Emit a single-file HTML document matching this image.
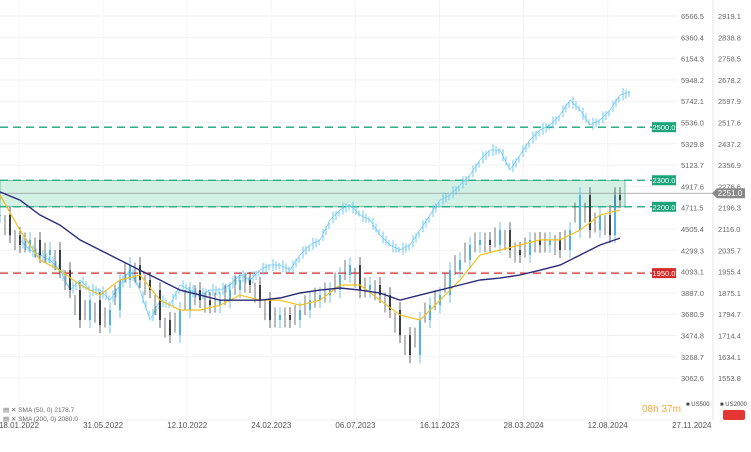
<!DOCTYPE html>
<html><head><meta charset="utf-8"><style>
body{margin:0;width:751px;height:447px;background:#fff;overflow:hidden;font-family:"Liberation Sans",sans-serif}
svg text{font-family:"Liberation Sans",sans-serif}
</style></head><body>
<svg id="c" width="751" height="447"></svg>
<script>
const dates=["18.01.2022","31.05.2022","12.10.2022","24.02.2023","06.07.2023","16.11.2023","28.03.2024","12.08.2024","27.11.2024"];
const r2kTicks=["2919.1","2838.8","2758.5","2678.2","2597.9","2517.6","2437.2","2356.9","2276.6","2196.3","2116.0","2035.7","1955.4","1875.1","1794.7","1714.4","1634.1","1553.8"];
const spxTicks=["6566.5","6360.4","6154.3","5948.2","5742.1","5536.0","5329.8","5123.7","4917.6","4711.5","4505.4","4299.3","4093.1","3887.0","3680.9","3474.8","3268.7","3062.6"];
// US2000 closes, one per ~16 days (x step 10px)
const r2k=[2169,2093,2056,2075,2018,2037,1961,1886,1773,1848,1754,1811,1924,1980,1924,1886,1773,1716,1811,1886,1848,1829,1848,1886,1924,1905,1848,1773,1792,1773,1811,1848,1867,1886,1943,1980,1886,1905,1867,1811,1716,1641,1773,1829,1867,1961,1999,2056,2075,2056,2112,2037,2018,2075,2056,2075,2037,2112,2244,2112,2169,2093,2244,2225];
const sma50=[2244,2112,1999,1961,1905,1867,1924,1943,1848,1811,1811,1829,1867,1848,1848,1829,1848,1905,1905,1848,1792,1773,1848,1924,2018,2037,2056,2075,2075,2112,2169,2188];
const sma200=[2256,2225,2169,2131,2075,2037,1999,1961,1924,1886,1867,1848,1848,1848,1856,1875,1886,1894,1886,1875,1848,1867,1886,1905,1924,1931,1943,1961,1980,2018,2056,2082];
// US500 closes from x=20 step 10
const spx=[4399,4302,4254,4206,4109,3915,4012,3915,3915,3818,3964,4109,3915,3625,3818,3770,3964,3915,3867,3915,3915,3964,4061,4012,4109,4157,4157,4109,4254,4351,4399,4593,4689,4738,4641,4593,4447,4351,4302,4351,4496,4641,4786,4834,4931,5028,5173,5270,5270,5076,5221,5367,5463,5512,5609,5754,5657,5512,5560,5657,5802,5831];
const S=document.getElementById('c'),N='http://www.w3.org/2000/svg';
function mk(t,a,p){const e=document.createElementNS(N,t);for(const k in a)e.setAttribute(k,a[k]);(p||S).appendChild(e);return e;}
const yR=v=>16+(2919.1-v)*0.2653;
const yS=v=>16+(6566.5-v)/9.676;
const xD=i=>19+i*84.1;
// grid
for(let i=0;i<r2kTicks.length;i++){const y=16+i*21.3;
 let g=mk('line',{x1:0,x2:676,y1:y,y2:y,stroke:'#f2f2f2'});
 let t=mk('text',{x:681,y:y+3,'font-size':7.5,fill:'#666'});t.textContent=spxTicks[i];
 let t2=mk('text',{x:718,y:y+3,'font-size':7.5,fill:'#666'});t2.textContent=r2kTicks[i];}
mk('line',{x1:713,x2:713,y1:0,y2:420,stroke:'#e6e6e6'});
for(let i=0;i<dates.length;i++){const x=xD(i);
 if(x<676){let g=mk('line',{x1:x,x2:x,y1:0,y2:420,stroke:'#f5f5f5'});}
 let t=mk('text',{x:x,y:428,'font-size':8,fill:'#555','text-anchor':'middle'});t.textContent=dates[i];}
mk('line',{x1:0,x2:680,y1:420,y2:420,stroke:'#eee'});
// zone
let z=mk('rect',{x:0,y:yR(2300),width:625,height:yR(2200)-yR(2300),fill:'#d3f0e4',stroke:'#2c9e74','stroke-width':0.6});
function hl(v,col,lab,name){let l=mk('line',{x1:0,x2:652,y1:yR(v),y2:yR(v),stroke:col,'stroke-width':1.3,'stroke-dasharray':'8,5'});
 let r=mk('rect',{x:652,y:yR(v)-5,width:24,height:10,fill:col});
 let t=mk('text',{x:664,y:yR(v)+3,'font-size':7.5,fill:'#fff','text-anchor':'middle'});t.textContent=lab;}
hl(2500,'#1aa579','2500.0','level-2500');hl(2300,'#1aa579','2300.0','level-2300');hl(2200,'#1aa579','2200.0','level-2200');hl(1950,'#d42a2a','1950.0','level-1950');
mk('line',{x1:0,x2:712,y1:yR(2251),y2:yR(2251),stroke:'#999','stroke-width':0.8});
let tg=mk('path',{d:`M712 ${yR(2251)} l5 -5 h28 v10 h-28z`,fill:'#888'});
let tt=mk('text',{x:730,y:yR(2251)+3,'font-size':8,fill:'#fff','text-anchor':'middle'});tt.textContent='2251.0';
// US500 line
let p='';spx.forEach((v,i)=>{p+=(i?'L':'M')+(20+i*10)+' '+yS(v).toFixed(1);});
let sl=mk('path',{d:p,fill:'none',stroke:'#7dcdf2','stroke-width':0.8});
spx.forEach((v,i)=>{if(!i)return;const a=yS(spx[i-1]),b=yS(v);
 for(let k=0;k<3;k++){const x=20+(i-1)*10+3+k*3,f=(k+1)/4,y=a+(b-a)*f;
 let c=mk('line',{x1:x,x2:x,y1:y-6+k*2,y2:y+6-k,stroke:'#6cc8f0','stroke-width':1});}});
// US2000 candles
r2k.forEach((v,i)=>{const x=i<62?i*10:(i==62?615:620);const prev=i?r2k[i-1]:v;const a=yR(prev),b=yR(v);
 const col=v>=prev?'#4fb3e8':'#3a4048';
 let w=mk('line',{x1:x,x2:x,y1:Math.min(a,b)-8,y2:Math.max(a,b)+8,stroke:col,'stroke-width':0.8});
 let c=mk('rect',{x:x-1,y:Math.min(a,b),width:2,height:Math.max(1,Math.abs(a-b)),fill:col});
 if(i){const xm=x-5,ym=(a+b)/2;let m=mk('line',{x1:xm,x2:xm,y1:ym-10,y2:ym+10,stroke:'#555','stroke-width':0.8});}});
function line(arr,col,w,name){let d='';arr.forEach((v,i)=>{d+=(i?'L':'M')+(i*20)+' '+yR(v).toFixed(1);});let e=mk('path',{d:d,fill:'none',stroke:col,'stroke-width':w});}
line(sma50,'#f2c21b',1.2,'sma50-line');line(sma200,'#2a2a7a',1.4,'sma200-line');
// legend
[['SMA (50, 0) 2178.7',412],['SMA (200, 0) 2080.0',421]].forEach(a=>{let t=mk('text',{x:3,y:a[1],'font-size':6.5,fill:'#666'});t.textContent='▤ ✕ '+a[0];});
let tm=mk('text',{x:642,y:412,'font-size':10,fill:'#f2a840'});tm.textContent='08h 37m';
let l1=mk('text',{x:686,y:406,'font-size':6,fill:'#444'});l1.textContent='■ US500';
let l2=mk('text',{x:720,y:406,'font-size':6,fill:'#444'});l2.textContent='■ US2000';
let rb=mk('rect',{x:723,y:410,width:22,height:10,rx:2,fill:'#e53535'});
</script></body></html>
